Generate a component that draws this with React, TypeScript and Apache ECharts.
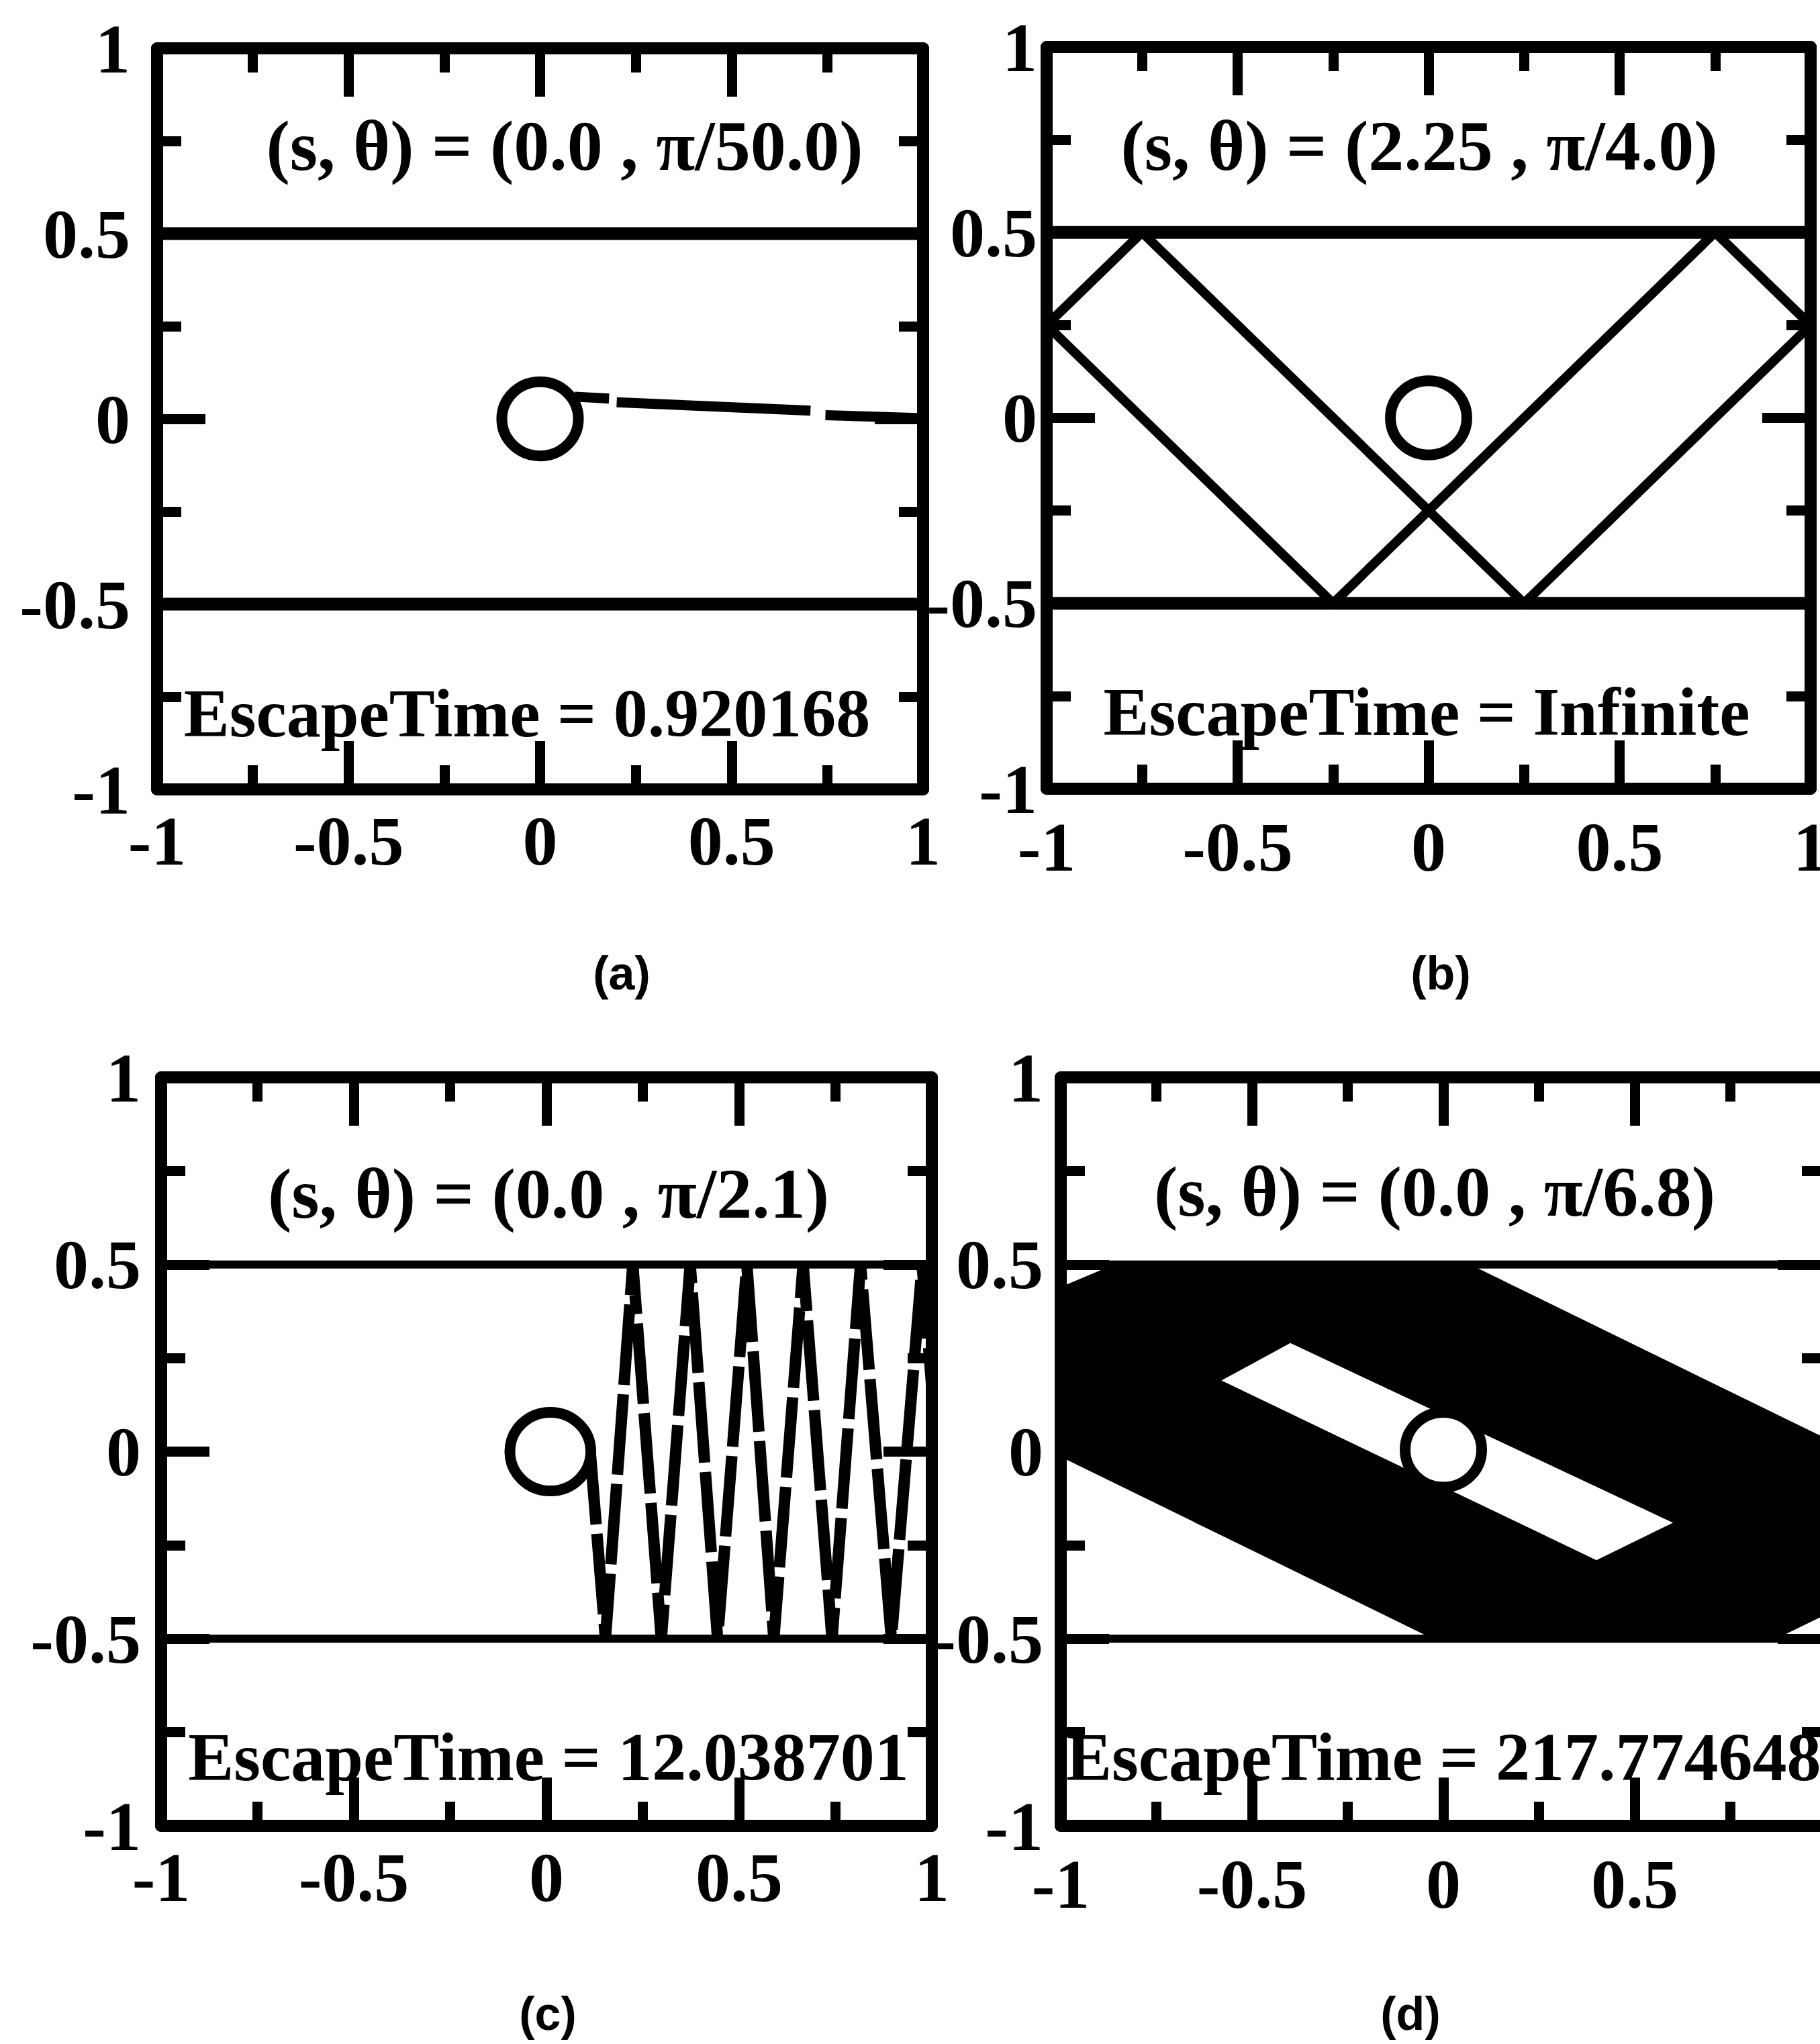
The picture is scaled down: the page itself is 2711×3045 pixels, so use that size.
import React, { useEffect, useRef } from "react";
import * as echarts from "echarts";

// ---- data ----
const TICK_VALUES = [-1, -0.5, 0, 0.5, 1];
const TICK_LABELS = ["-1", "-0.5", "0", "0.5", "1"];

const WALL_TOP = [[-1, 0.5], [1, 0.5]];
const WALL_BOTTOM = [[-1, -0.5], [1, -0.5]];

// obstacle circles [cx, cy, r] per panel
const CIRCLE_A = [0, 0, 0.1];
const CIRCLE_B = [0, 0, 0.1];
const CIRCLE_C = [0.01, 0, 0.105];
const CIRCLE_D = [0, 0.005, 0.1];

// (a) trajectory pieces
const TRAJ_A_1 = [[0.09, 0.06], [0.18, 0.055]];
const TRAJ_A_2 = [[0.2, 0.045], [0.706, 0.022]];
const TRAJ_A_3 = [[0.745, 0.01], [1.0, 0.002]];

// (b) periodic orbit
const TRAJ_B_1 = [[-1, 0.25], [-0.75, 0.5], [0.25, -0.5], [1, 0.25]];
const TRAJ_B_2 = [[-1, 0.25], [-0.25, -0.5], [0.75, 0.5], [1, 0.25]];

// (c) zigzag orbit
const TRAJ_C = [
  [0.112, 0.02], [0.153, -0.5], [0.224, 0.5], [0.298, -0.5], [0.373, 0.5],
  [0.444, -0.5], [0.52, 0.5], [0.59, -0.5], [0.666, 0.5], [0.741, -0.5],
  [0.815, 0.5], [0.895, -0.5], [0.975, 0.5], [1.0, 0.17],
];

// (d) filled band and inner hole
const BAND_OUTER_D = [
  [-0.86, 0.5], [0.07, 0.5], [1, 0.035], [1, -0.435], [0.87, -0.5],
  [-0.028, -0.5], [-1, -0.014], [-1, 0.44],
];
const BAND_INNER_D = [[-0.58, 0.19], [-0.4, 0.29], [0.6, -0.19], [0.4, -0.29]];

const PARAM_LABELS = [
  "(s, θ) = (0.0 , π/50.0)",
  "(s, θ) = (2.25 , π/4.0)",
  "(s, θ) = (0.0 , π/2.1)",
  "(s, θ) = (0.0 , π/6.8)",
];
const ESCAPE_LABELS = [
  "EscapeTime = 0.920168",
  "EscapeTime = Infinite",
  "EscapeTime = 12.038701",
  "EscapeTime = 217.774648",
];
const CAPTIONS = ["(a)", "(b)", "(c)", "(d)"];

// ---- layout ----
const GRIDS = [
  { left: 234, top: 72, width: 1141, height: 1104 },
  { left: 1559, top: 70, width: 1138, height: 1105 },
  { left: 240, top: 1605, width: 1148, height: 1115 },
  { left: 1580, top: 1605, width: 1140, height: 1115 },
];
// panel (d) is cut by the page edge: its x = 1 label lies outside the picture
const X_LABEL_VISIBLE_MAX = [1, 1, 1, 0.5];
const XLABEL_MARGIN = [36, 46, 36, 46];
const YLABEL_MARGIN = [40, 14, 30, 26];
const WALL_WIDTH = [19, 19, 12, 12];
const PARAM_POS = [[841, 217], [2114, 217], [817, 1778], [2137, 1775]];
const ESCAPE_POS = [[785, 1062], [2125, 1060], [817, 2617], [1588, 2617]];
const ESCAPE_ALIGN = ["center", "center", "center", "left"];
const CAPTION_POS = [[926, 1450], [2146, 1450], [816, 3000], [2101, 3000]];

const SERIF = '"Liberation Serif", "Times New Roman", serif';
const SANS = '"Liberation Sans", Arial, sans-serif';

const makeFmt = (maxVisible: number) => (v: number) => {
  if (v > maxVisible) return "";
  const i = TICK_VALUES.indexOf(v);
  return i >= 0 ? TICK_LABELS[i] : "";
};

function axisCommon(showLabel: boolean, margin: number, lineHeight: number, maxVisible = 1) {
  return {
    type: "value",
    min: -1,
    max: 1,
    interval: 0.5,
    axisLine: { show: true, onZero: false, lineStyle: { color: "#000", width: 18 } },
    axisTick: { show: true, inside: true, length: 72, lineStyle: { color: "#000", width: 15 } },
    minorTick: { show: true, splitNumber: 2, length: 36, lineStyle: { color: "#000", width: 15 } },
    splitLine: { show: false },
    minorSplitLine: { show: false },
    axisLabel: {
      show: showLabel,
      formatter: makeFmt(maxVisible),
      fontFamily: SERIF,
      fontWeight: "bold",
      fontSize: 104,
      lineHeight,
      color: "#000",
      margin,
    },
  };
}

function lineSeries(g: number, data: number[][], width: number, extra: any = {}) {
  return {
    type: "line",
    xAxisIndex: 2 * g,
    yAxisIndex: 2 * g,
    data,
    showSymbol: false,
    symbol: "none",
    silent: true,
    z: 4,
    lineStyle: { color: "#000", width, cap: "butt", join: "miter", ...extra },
  };
}

function circleSeries(g: number, c: number[]) {
  return {
    type: "custom",
    coordinateSystem: "cartesian2d",
    xAxisIndex: 2 * g,
    yAxisIndex: 2 * g,
    data: [c],
    z: 6,
    silent: true,
    renderItem: (_p: any, api: any) => {
      const ctr = api.coord([api.value(0), api.value(1)]);
      const s = api.size([api.value(2), api.value(2)]);
      return {
        type: "ellipse",
        shape: { cx: ctr[0], cy: ctr[1], rx: s[0], ry: s[1] },
        style: { fill: "#fff", stroke: "#000", lineWidth: 16 },
      };
    },
  };
}

function polygonSeries(g: number, pts: number[][], fill: string, z: number) {
  return {
    type: "custom",
    coordinateSystem: "cartesian2d",
    xAxisIndex: 2 * g,
    yAxisIndex: 2 * g,
    data: [[0, 0]],
    z,
    silent: true,
    renderItem: (_p: any, api: any) => ({
      type: "polygon",
      shape: { points: pts.map((p) => api.coord(p)) },
      style: { fill },
    }),
  };
}

export default function App() {
  const ref = useRef<HTMLDivElement>(null);
  useEffect(() => {
    if (!ref.current) return;
    const chart = echarts.init(ref.current, null, { renderer: "svg" });

    const grid = GRIDS.map((g) => ({ ...g, containLabel: false, outerBoundsMode: "none" }));
    const xAxis: any[] = [];
    const yAxis: any[] = [];
    GRIDS.forEach((_g, i) => {
      xAxis.push({ ...axisCommon(true, XLABEL_MARGIN[i], 80, X_LABEL_VISIBLE_MAX[i]), gridIndex: i, position: "bottom" });
      xAxis.push({ ...axisCommon(false, 0, 80), gridIndex: i, position: "top" });
      yAxis.push({ ...axisCommon(true, YLABEL_MARGIN[i], 56), gridIndex: i, position: "left" });
      yAxis.push({ ...axisCommon(false, 0, 56), gridIndex: i, position: "right" });
    });

    const series: any[] = [];
    series.push(polygonSeries(3, BAND_OUTER_D, "#000", 2));
    series.push(polygonSeries(3, BAND_INNER_D, "#fff", 3));
    GRIDS.forEach((_g, i) => {
      series.push(lineSeries(i, WALL_TOP, WALL_WIDTH[i]));
      series.push(lineSeries(i, WALL_BOTTOM, WALL_WIDTH[i]));
    });
    series.push(lineSeries(0, TRAJ_A_1, 15));
    series.push(lineSeries(0, TRAJ_A_2, 15));
    series.push(lineSeries(0, TRAJ_A_3, 15));
    series.push(lineSeries(1, TRAJ_B_1, 14));
    series.push(lineSeries(1, TRAJ_B_2, 14));
    series.push(lineSeries(2, TRAJ_C, 17, { type: [120, 14] }));
    series.push(circleSeries(0, CIRCLE_A));
    series.push(circleSeries(1, CIRCLE_B));
    series.push(circleSeries(2, CIRCLE_C));
    series.push(circleSeries(3, CIRCLE_D));

    const graphic: any[] = [];
    for (let i = 0; i < 4; i++) {
      graphic.push({
        type: "text",
        x: PARAM_POS[i][0],
        y: PARAM_POS[i][1],
        z: 100,
        style: {
          text: PARAM_LABELS[i],
          fontFamily: SERIF,
          fontWeight: "bold",
          fontSize: 106,
          fill: "#000",
          align: "center",
          verticalAlign: "middle",
        },
      });
      graphic.push({
        type: "text",
        x: ESCAPE_POS[i][0],
        y: ESCAPE_POS[i][1],
        z: 100,
        style: {
          text: ESCAPE_LABELS[i],
          fontFamily: SERIF,
          fontWeight: "bold",
          fontSize: 102,
          fill: "#000",
          align: ESCAPE_ALIGN[i],
          verticalAlign: "middle",
        },
      });
      graphic.push({
        type: "text",
        x: CAPTION_POS[i][0],
        y: CAPTION_POS[i][1],
        z: 100,
        style: {
          text: CAPTIONS[i],
          fontFamily: SANS,
          fontWeight: "bold",
          fontSize: 70,
          fill: "#000",
          align: "center",
          verticalAlign: "middle",
        },
      });
    }

    chart.setOption({
      animation: false,
      backgroundColor: "#fff",
      grid,
      xAxis,
      yAxis,
      series,
      graphic,
    });
    return () => chart.dispose();
  }, []);

  return (
    <div
      ref={ref}
      style={{ position: "absolute", left: 0, top: 0, width: 2711, height: 3045, background: "#fff" }}
    />
  );
}
